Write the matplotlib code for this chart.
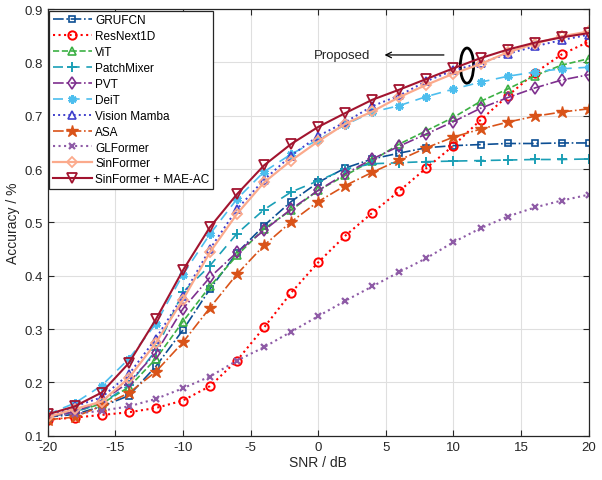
import numpy as np
import matplotlib.pyplot as plt
from matplotlib.patches import Ellipse

plt.rcParams['font.family'] = ['Liberation Sans', 'DejaVu Sans']
plt.rcParams['axes.unicode_minus'] = False

# ---------- data ----------
snr = list(range(-20, 21, 2))

gru_fcn = [0.135, 0.140, 0.155, 0.175, 0.230, 0.298, 0.375, 0.443, 0.494, 0.539, 0.575,
           0.602, 0.619, 0.630, 0.640, 0.644, 0.646, 0.648, 0.648, 0.649, 0.649]
resnext1d = [0.130, 0.134, 0.139, 0.144, 0.152, 0.166, 0.193, 0.241, 0.303, 0.368, 0.425,
             0.475, 0.518, 0.559, 0.602, 0.644, 0.692, 0.737, 0.780, 0.815, 0.839]
vit = [0.135, 0.145, 0.160, 0.191, 0.244, 0.314, 0.380, 0.438, 0.488, 0.523, 0.560,
       0.588, 0.616, 0.647, 0.672, 0.697, 0.727, 0.750, 0.775, 0.795, 0.807]
patchmixer = [0.135, 0.145, 0.160, 0.195, 0.260, 0.369, 0.419, 0.479, 0.524, 0.557, 0.578,
              0.600, 0.610, 0.612, 0.614, 0.615, 0.616, 0.617, 0.618, 0.618, 0.619]
pvt = [0.135, 0.145, 0.165, 0.200, 0.255, 0.338, 0.397, 0.444, 0.485, 0.525, 0.560,
       0.591, 0.619, 0.643, 0.666, 0.689, 0.714, 0.734, 0.752, 0.767, 0.777]
deit = [0.140, 0.161, 0.194, 0.244, 0.310, 0.402, 0.478, 0.544, 0.595, 0.628, 0.655,
        0.683, 0.707, 0.719, 0.736, 0.750, 0.763, 0.774, 0.782, 0.788, 0.791]
vision_mamba = [0.135, 0.155, 0.172, 0.215, 0.282, 0.362, 0.450, 0.525, 0.580, 0.625, 0.662,
                0.688, 0.718, 0.738, 0.765, 0.785, 0.799, 0.816, 0.830, 0.842, 0.852]
asa = [0.130, 0.135, 0.156, 0.180, 0.220, 0.275, 0.340, 0.403, 0.457, 0.501, 0.539,
       0.569, 0.594, 0.617, 0.640, 0.660, 0.675, 0.688, 0.699, 0.707, 0.713]
glformer = [0.138, 0.141, 0.147, 0.155, 0.169, 0.189, 0.211, 0.241, 0.266, 0.295, 0.324,
            0.353, 0.380, 0.407, 0.433, 0.463, 0.489, 0.511, 0.528, 0.541, 0.552]
sinformer = [0.135, 0.150, 0.164, 0.208, 0.274, 0.355, 0.444, 0.516, 0.575, 0.616, 0.652,
             0.685, 0.708, 0.735, 0.758, 0.779, 0.797, 0.819, 0.835, 0.849, 0.858]
sinformer_mae = [0.140, 0.155, 0.181, 0.236, 0.318, 0.410, 0.491, 0.553, 0.607, 0.647, 0.679,
                 0.705, 0.730, 0.749, 0.769, 0.789, 0.808, 0.824, 0.837, 0.847, 0.855]

# ---------- plot ----------
fig = plt.figure(figsize=(6.02, 4.81), dpi=100)
ax = fig.add_axes([0.079, 0.092, 0.899, 0.887])

lw = 1.2
ax.plot(snr, gru_fcn, '-.', color='#0d4f94', lw=lw, marker='s', ms=4.5, mfc='none', mew=1.2, label='GRUFCN')
ax.plot(snr, resnext1d, ':', color='#ff0000', lw=lw + 0.3, marker='o', ms=6, mfc='none', mew=1.4, label='ResNext1D')
ax.plot(snr, vit, '--', color='#3cb044', lw=lw, marker='^', ms=6, mfc='none', mew=1.2, label='ViT')
ax.plot(snr, patchmixer, color='#1b9fb6', lw=lw, ls=(0, (6, 4)), marker='+', ms=7, mew=1.4, label='PatchMixer')
ax.plot(snr, pvt, '-.', color='#7e2f8e', lw=lw, marker='d', ms=6, mfc='none', mew=1.2, label='PVT')
ax.plot(snr, deit, color='#4dbeee', lw=lw, ls=(0, (6, 4)), marker=(6, 2, 0), ms=6, mew=2.0, label='DeiT')
ax.plot(snr, vision_mamba, ':', color='#4040cc', lw=lw + 0.2, marker='^', ms=6, mfc='none', mew=1.2, label='Vision Mamba')
ax.plot(snr, asa, '-.', color='#d95319', lw=lw, marker='*', ms=9, label='ASA')
ax.plot(snr, glformer, ':', color='#8e5ba6', lw=lw + 0.3, marker='x', ms=4.5, mew=1.6, label='GLFormer')
ax.plot(snr, sinformer, '-', color='#fbaa8c', lw=lw + 0.4, marker='D', ms=5, mfc='none', mew=1.3, label='SinFormer')
ax.plot(snr, sinformer_mae, '-', color='#a2142f', lw=lw + 0.3, marker='v', ms=6.5, mfc='none', mew=1.3, label='SinFormer + MAE-AC')

ax.set_xlim(-20, 20)
ax.set_ylim(0.1, 0.9)
ax.set_xticks([-20, -15, -10, -5, 0, 5, 10, 15, 20])
ax.set_yticks(np.round(np.arange(0.1, 0.91, 0.1), 1))
ax.grid(True, color='#dfdfdf', lw=0.8)
ax.set_axisbelow(True)
ax.tick_params(direction='in', labelsize=9.5, colors='#262626', length=4, top=True, right=True)
for s in ax.spines.values():
    s.set_color('#262626')
    s.set_linewidth(0.9)
ax.set_xlabel('SNR / dB', fontsize=10, color='#262626', labelpad=2)
ax.set_ylabel('Accuracy / %', fontsize=10, color='#262626', labelpad=3)

leg = ax.legend(loc='upper left', fontsize=8.5, handlelength=3.3, labelspacing=0.33,
                borderaxespad=0.15, fancybox=False, framealpha=1, edgecolor='#262626',
                handletextpad=0.3, borderpad=0.3)
leg.get_frame().set_linewidth(0.9)

# annotation for proposed methods
ax.add_patch(Ellipse((11.0, 0.794), 0.98, 0.066, fill=False, ec='black', lw=2))
ax.annotate('', xy=(4.7, 0.814), xytext=(9.5, 0.814),
            arrowprops=dict(arrowstyle='->', color='black', lw=0.9))
ax.text(1.8, 0.814, 'Proposed', fontsize=9.5, ha='center', va='center', color='#262626')

fig.savefig('out.png', dpi=100)
